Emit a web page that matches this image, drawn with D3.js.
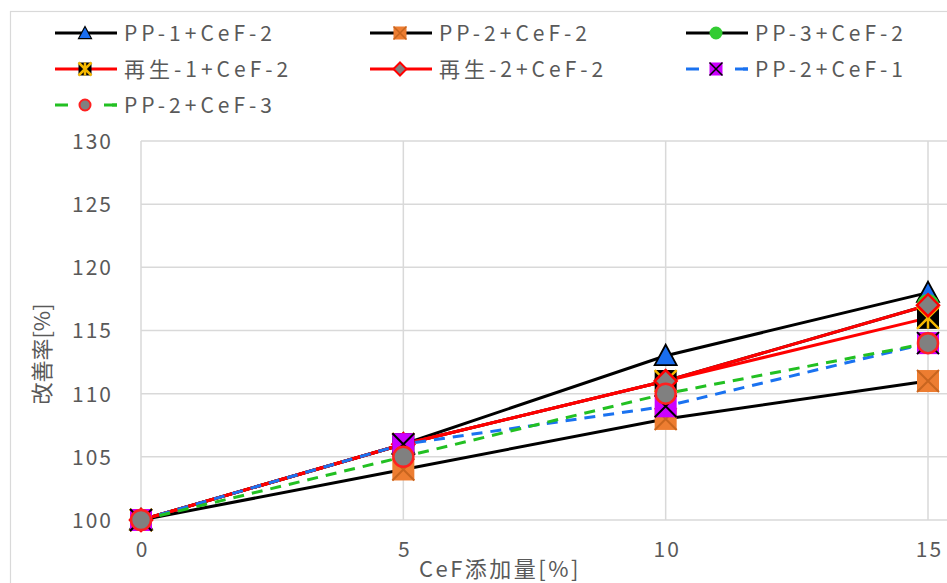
<!DOCTYPE html>
<html>
<head>
<meta charset="utf-8">
<script src="https://cdn.jsdelivr.net/npm/d3@7"></script>
<style>
  html, body { margin: 0; padding: 0; background: #fff; }
  svg { display: block; }
  text { font-family: "Noto Sans CJK JP", "Noto Sans", sans-serif; fill: #595959; }
</style>
</head>
<body>
<svg id="chart" width="947" height="583"></svg>
<script>
// CeF loading [%]
const xValues = [0, 5, 10, 15];
const xTicks = [0, 5, 10, 15];
const yTicks = [100, 105, 110, 115, 120, 125, 130];

// Improvement rate [%] for each blend
const seriesNames = [
  "PP-1+CeF-2", "PP-2+CeF-2", "PP-3+CeF-2",
  "再生-1+CeF-2", "再生-2+CeF-2", "PP-2+CeF-1",
  "PP-2+CeF-3"
];
const pp1CeF2 = [100, 106, 113, 118];
const pp2CeF2 = [100, 104, 108, 111];
const pp3CeF2 = [100, 106, 111, 117];
const recycled1CeF2 = [100, 106, 111, 116];
const recycled2CeF2 = [100, 106, 111, 117];
const pp2CeF1 = [100, 106, 109, 114];
const pp2CeF3 = [100, 105, 110, 114];
const seriesValues = [pp1CeF2, pp2CeF2, pp3CeF2, recycled1CeF2, recycled2CeF2, pp2CeF1, pp2CeF3];

const xTitle = "CeF添加量[%]";
const yTitle = "改善率[%]";

// Line and marker styling per series
const styles = [
  { line: "#000000", dash: null, marker: "triangle", fill: "#1a6ef0", stroke: "#000000" },
  { line: "#000000", dash: null, marker: "squareX", fill: "#ed7d31", stroke: "#c8651f" },
  { line: "#000000", dash: null, marker: "circle", fill: "#33cc33", stroke: "#33cc33" },
  { line: "#ff0000", dash: null, marker: "star", fill: "#000000", stroke: "#f5b800" },
  { line: "#ff0000", dash: null, marker: "diamond", fill: "#808080", stroke: "#ff0000" },
  { line: "#1a72f0", dash: "11,8", marker: "squareX", fill: "#cc00ff", stroke: "#000000" },
  { line: "#22c022", dash: "11,8", marker: "circle", fill: "#808080", stroke: "#ff2020" }
];

const svg = d3.select("#chart");

// chart frame
svg.append("rect")
  .attr("x", 10.5).attr("y", 11.5)
  .attr("width", 960).attr("height", 600)
  .attr("fill", "#fff").attr("stroke", "#d9d9d9").attr("stroke-width", 1.2);

const x = d3.scaleLinear().domain([0, 15]).range([141, 928]);
const y = d3.scaleLinear().domain([100, 130]).range([520, 141]);

// gridlines
const grid = svg.append("g");
grid.selectAll("line.h").data(yTicks).join("line")
  .attr("x1", x(0)).attr("x2", x(15) + 30)
  .attr("y1", d => y(d)).attr("y2", d => y(d))
  .attr("stroke", "#d9d9d9").attr("stroke-width", 1.5);
grid.selectAll("line.v").data(xTicks).join("line")
  .attr("x1", d => x(d)).attr("x2", d => x(d))
  .attr("y1", y(130)).attr("y2", y(100))
  .attr("stroke", "#d9d9d9").attr("stroke-width", 1.5);

// axes (labels only)
const tickSpacing = 2;
const yAxis = d3.axisLeft(y).tickValues(yTicks).tickSize(0).tickPadding(0);
const gy = svg.append("g").attr("transform", `translate(${111 + tickSpacing},0)`).call(yAxis);
gy.select(".domain").remove();
gy.selectAll("text").attr("font-size", 21).attr("fill", "#595959")
  .attr("letter-spacing", tickSpacing)
  .attr("font-family", "'Noto Sans CJK JP', sans-serif").attr("dy", "0.35em").attr("text-anchor", "end");

const xAxis = d3.axisBottom(x).tickValues(xTicks).tickSize(0).tickPadding(0);
const gx = svg.append("g").attr("transform", `translate(${tickSpacing / 2},550)`).call(xAxis);
gx.select(".domain").remove();
gx.selectAll("text").attr("font-size", 21).attr("fill", "#595959")
  .attr("letter-spacing", tickSpacing)
  .attr("font-family", "'Noto Sans CJK JP', sans-serif").attr("dy", "0.35em");

// axis titles
svg.append("text").attr("x", 500).attr("y", 569).attr("dy", "0.35em")
  .attr("letter-spacing", 2.5)
  .attr("text-anchor", "middle").attr("font-size", 22).text(xTitle);
svg.append("text").attr("transform", "translate(42,354) rotate(-90)").attr("dy", "0.35em")
  .attr("text-anchor", "middle").attr("font-size", 22).text(yTitle);

// marker drawing
function drawMarker(g, st, cx, cy, s) {
  const h = s / 2;
  const m = g.append("g").attr("transform", `translate(${cx},${cy})`);
  if (st.marker === "triangle") {
    m.append("path").attr("d", `M0,${-h} L${h},${h * 0.85} L${-h},${h * 0.85} Z`)
      .attr("fill", st.fill).attr("stroke", st.stroke).attr("stroke-width", s > 15 ? 1.8 : 1.2)
      .attr("stroke-linejoin", "miter");
  } else if (st.marker === "squareX") {
    m.append("rect").attr("x", -h).attr("y", -h).attr("width", s).attr("height", s)
      .attr("fill", st.fill);
    m.append("path").attr("d", `M${-h},${-h} L${h},${h} M${h},${-h} L${-h},${h}`)
      .attr("stroke", st.stroke).attr("stroke-width", s > 15 ? 2 : 1.5);
  } else if (st.marker === "circle") {
    m.append("circle").attr("r", h - 1)
      .attr("fill", st.fill).attr("stroke", st.stroke).attr("stroke-width", s > 15 ? 2.5 : 2);
  } else if (st.marker === "star") {
    m.append("rect").attr("x", -h).attr("y", -h).attr("width", s).attr("height", s)
      .attr("fill", st.fill);
    m.append("path").attr("d", `M${-h},${-h} L${h},${h} M${h},${-h} L${-h},${h} M0,${-h} L0,${h}`)
      .attr("stroke", st.stroke).attr("stroke-width", 2.5);
  } else if (st.marker === "diamond") {
    m.append("path").attr("d", `M0,${-h} L${h},0 L0,${h} L${-h},0 Z`)
      .attr("fill", st.fill).attr("stroke", st.stroke).attr("stroke-width", s > 15 ? 2.5 : 2);
  }
}

// series lines
const line = d3.line().x((d, i) => x(xValues[i])).y(d => y(d));
const plot = svg.append("g");
seriesValues.forEach((vals, i) => {
  plot.append("path").datum(vals)
    .attr("d", line)
    .attr("fill", "none")
    .attr("stroke", styles[i].line)
    .attr("stroke-width", 3)
    .attr("stroke-dasharray", styles[i].dash);
});
// series markers
seriesValues.forEach((vals, i) => {
  vals.forEach((v, j) => drawMarker(plot, styles[i], x(xValues[j]), y(v), 22));
});

// legend
const legendCols = [55, 370, 686];
const legendRows = [33, 69, 105];
const legend = svg.append("g");
seriesNames.forEach((name, i) => {
  const lx = legendCols[i % 3], ly = legendRows[Math.floor(i / 3)];
  const st = styles[i];
  legend.append("line").attr("x1", lx).attr("x2", lx + 62).attr("y1", ly).attr("y2", ly)
    .attr("stroke", st.line).attr("stroke-width", 3)
    .attr("stroke-dasharray", st.dash ? "13,44" : null);
  if (st.dash) {
    legend.append("line").attr("x1", lx + 49).attr("x2", lx + 62).attr("y1", ly).attr("y2", ly)
      .attr("stroke", st.line).attr("stroke-width", 3);
  }
  drawMarker(legend, st, lx + 30, ly, 13);
  legend.append("text").attr("x", lx + 69).attr("y", ly).attr("dy", "0.36em")
    .attr("letter-spacing", 4)
    .attr("font-size", 21).text(name);
});
</script>
</body>
</html>
